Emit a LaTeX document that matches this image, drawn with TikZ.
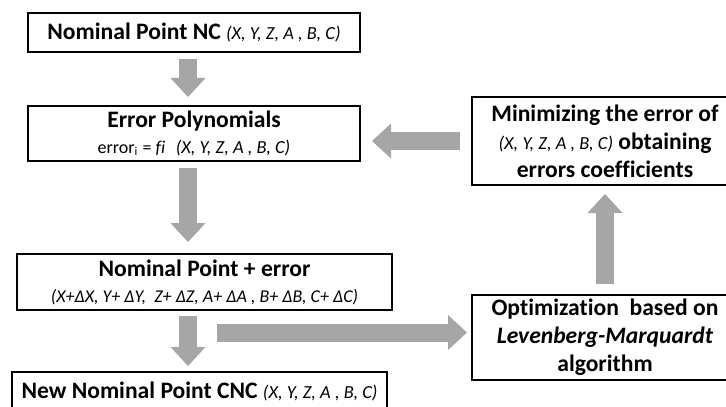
\documentclass[tikz,border=0pt]{standalone}
\usepackage{fontspec}
\setmainfont{Carlito}[Ligatures={NoCommon}]
\usetikzlibrary{calc}
\usetikzlibrary{arrows.meta}
\definecolor{arrowgray}{RGB}{166,166,166}
\newcommand{\xyz}{{\mdseries\itshape\fontsize{9.2}{11}\selectfont (X, Y, Z, A , B, C)}}

\begin{document}
\begin{tikzpicture} [x=.5pt, y=-.5pt,
 box/.style={draw, line width=1pt, align=center, inner sep=0pt, font=\fontsize{11.8}{13}\selectfont\bfseries},
 sidebox/.style={box, minimum width=133pt, font=\fontsize{11.8}{14}\selectfont\bfseries},
 bigarrow/.style={arrowgray, line width=9pt, -{Triangle[width=17.5pt,length=9.5pt,line width=0pt]}}]
\useasboundingbox (0,0) rectangle (726,406);
\clip (0,0) rectangle (726,406);
\node[box, minimum width=166pt, minimum height=19.5pt] (nc) at (194,32.5) {Nominal Point NC \xyz};
\node[box, minimum width=166pt, minimum height=27.5pt] (poly) at (194,133.5)
 {Error Polynomials\\ {\mdseries\fontsize{9}{13}\selectfont error\textsubscript{i} = \textit{fi}}\ \ \xyz};
\node[box, minimum width=187.5pt, minimum height=28pt] (npe) at (204.5,282)
 {Nominal Point + error\\ {\mdseries\itshape\fontsize{9}{11}\selectfont (X+ΔX, Y+ ΔY,\ \ Z+ ΔZ, A+ ΔA , B+ ΔB, C+ ΔC)}};
\node[box, minimum width=187.5pt, minimum height=19.5pt] (cnc) at (199.5,391.5) {New Nominal Point CNC \xyz};
\node[sidebox, minimum height=44pt] (minz) at (605,141) {Minimizing the error of\\ \xyz\ obtaining\\ errors coefficients};
\node[sidebox, minimum height=42.5pt] (opt) at (605,337.5) {Optimization\ \ based on\\ \textit{Levenberg-Marquardt}\\ algorithm};
\coordinate (axis) at (188,0);
\coordinate (split) at (217,332.5);
\foreach \a/\b/\s/\e in {nc/poly/3pt/4pt, poly/npe/3pt/5.5pt, npe/cnc/2.5pt/2.5pt}
 \draw[bigarrow, shorten <=\s, shorten >=\e] (\a.south -| axis) -- (\b.north -| axis);
\draw[bigarrow, shorten >=2pt] (split) -- (split -| opt.west);
\draw[bigarrow, shorten <=5pt, shorten >=4pt] (opt.north) -- (minz.south);
\draw[bigarrow, shorten <=5.5pt, shorten >=5.5pt] (minz.west) -- (minz.west -| poly.east);
\end{tikzpicture}
\end{document}
